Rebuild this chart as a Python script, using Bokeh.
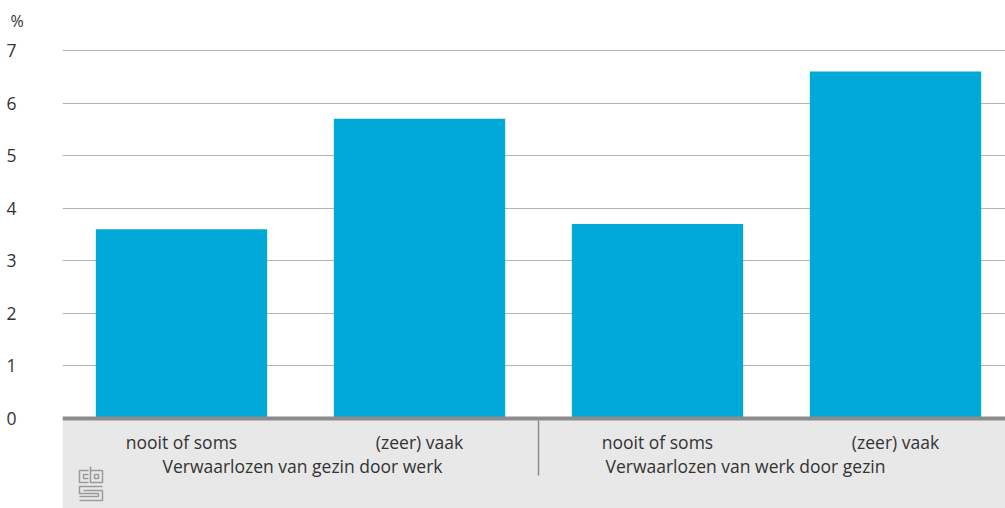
from bokeh.plotting import figure
from bokeh.models import FixedTicker, BoxAnnotation, Span, Title, ColumnDataSource, Range1d
from bokeh.core.properties import value
from bokeh.embed import file_html
from bokeh.resources import INLINE

categories = ["nooit of soms", "(zeer) vaak", "nooit of soms", "(zeer) vaak"]
values = [3.6, 5.7, 3.7, 6.6]
groups = ["Verwaarlozen van gezin door werk", "Verwaarlozen van werk door gezin"]
y_ticks = [0, 1, 2, 3, 4, 5, 6, 7]
unit_label = "%"

FONT = "Open Sans"
BAR = "#00a9d8"
TXT = "#333333"
FS = "17.5px"

W, H = 1005, 508
left = 62
top = 36
cat_w = 238.0
px_per_unit = 52.57
zero_px = 418

x0 = -0.5
x1 = x0 + (W - left) / cat_w
y1 = (zero_px - top) / px_per_unit
y0 = -(H - zero_px) / px_per_unit

def py(pix):
    return (zero_px - pix) / px_per_unit

p = figure(width=W, height=H, output_backend="svg", toolbar_location=None,
           x_range=Range1d(x0, x1), y_range=Range1d(y0, y1),
           min_border_left=left, min_border_right=0, min_border_top=top, min_border_bottom=0)
p.outline_line_color = None
p.background_fill_color = "white"
p.border_fill_color = "white"

p.add_layout(Title(text=unit_label, align="left", offset=-52, standoff=10,
                   text_font=FONT, text_font_size="16px", text_font_style="normal",
                   text_color=TXT), "above")

xs = list(range(len(categories)))
src = ColumnDataSource(dict(x=xs, top=values))
p.vbar(x="x", top="top", bottom=0, width=0.72, source=src, fill_color=BAR, line_color=None)

# grey band below zero
p.add_layout(BoxAnnotation(top=0, fill_color="#e8e8e8", fill_alpha=1.0, line_color=None, level="underlay"))
p.add_layout(Span(location=0, dimension="width", line_color="#8c8c8c", line_width=4))

# axes
p.xaxis.visible = False
p.yaxis.ticker = FixedTicker(ticks=y_ticks)
p.yaxis.axis_line_color = None
p.yaxis.major_tick_line_color = None
p.yaxis.minor_tick_line_color = None
p.yaxis.major_label_text_font = FONT
p.yaxis.major_label_text_font_size = FS
p.yaxis.major_label_text_color = TXT
p.yaxis.major_label_standoff = 40
p.xgrid.visible = False
p.ygrid.ticker = FixedTicker(ticks=y_ticks[1:])
p.ygrid.grid_line_color = "#b4b4b4"
p.ygrid.grid_line_width = 1

# category labels
p.text(x=xs, y=[py(441)] * len(xs), text=categories, text_font=value(FONT),
       text_font_size=FS, text_color=TXT, text_align="center", text_baseline="middle")

# group labels
gx = [0.5, 2.5]
p.text(x=gx, y=[py(465)] * 2, text=groups, text_font=value(FONT),
       text_font_size=FS, text_color=TXT, text_align="center", text_baseline="middle",
       x_offset=[2, -31])

# group separator
p.segment(x0=[1.5], y0=[py(420)], x1=[1.5], y1=[py(475)], line_color="#8c8c8c", line_width=1.5)

# simple cbs logo approximation
def lx(pix):
    return x0 + (pix - left) / cat_w
logo_xs = []
logo_ys = []
segs = [
    [(88, 470), (79, 470), (79, 482), (88, 482)],
    [(88, 474), (83, 474), (83, 478), (88, 478)],
    [(90, 466), (90, 482), (102, 482), (102, 470), (90, 470)],
    [(94, 474), (98, 474), (98, 478), (94, 478), (94, 474)],
    [(102, 486), (79, 486), (79, 493), (98, 493), (98, 496), (79, 496)],
    [(102, 490), (83, 490)],
    [(102, 490), (102, 500), (79, 500)],
]
for s in segs:
    logo_xs.append([lx(a) for a, b in s])
    logo_ys.append([py(b) for a, b in s])
p.multi_line(xs=logo_xs, ys=logo_ys, line_color="#9a9a9a", line_width=1.5)

open("out.html", "w").write(file_html(p, INLINE))
